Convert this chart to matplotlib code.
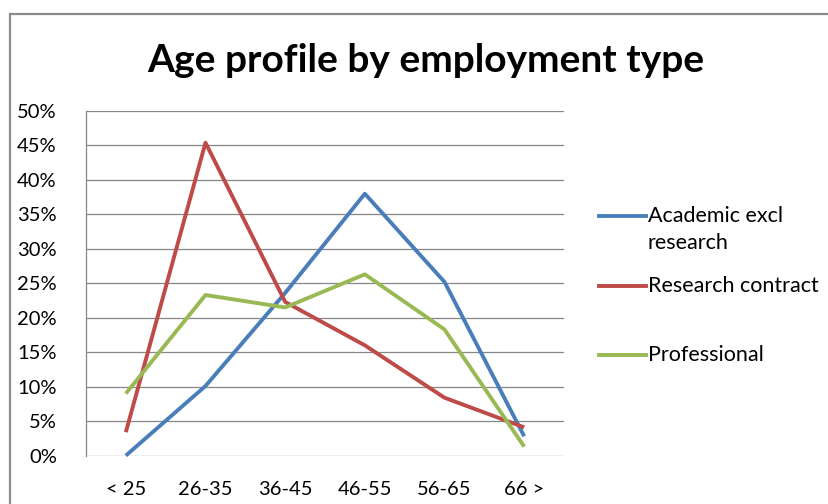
import matplotlib.pyplot as plt
from matplotlib.lines import Line2D
from matplotlib.patches import Rectangle
from matplotlib.ticker import FuncFormatter

# age bands and share of staff in each band
AGE_BANDS = ['< 25', '26-35', '36-45', '46-55', '56-65', '66 >']
academic = [0.0, 10.1, 23.6, 38.0, 25.2, 2.8]
research = [3.4, 45.4, 22.3, 16.0, 8.4, 4.1]
professional = [9.0, 23.3, 21.5, 26.3, 18.3, 1.3]

SERIES = [
    ('Academic excl\nresearch', academic, '#4A7EBB'),
    ('Research contract', research, '#BE4B48'),
    ('Professional', professional, '#98B954'),
]

W, H = 829, 504
plt.rcParams['font.family'] = ['Lato', 'DejaVu Sans']

fig = plt.figure(figsize=(W / 100, H / 100), dpi=100)

# chart area border (only the top-left corner is visible in the crop)
top = 1 - 14 / H
fig.patches.append(Rectangle((10 / W, -0.2), 2, top + 0.2, transform=fig.transFigure,
                             fill=False, edgecolor='#8c8c8c', lw=1.6))

ax = fig.add_axes([86 / W, (H - 455.6) / H, 478 / W, (455.6 - 111) / H])

x = range(len(AGE_BANDS))
for label, values, color in SERIES:
    ax.plot(x, values, color=color, lw=2.8, solid_capstyle='butt', clip_on=False)

ax.set_xlim(-0.5, len(AGE_BANDS) - 0.5)
ax.set_ylim(0, 50)
ax.set_yticks(range(0, 51, 5))
ax.yaxis.set_major_formatter(FuncFormatter(lambda v, _: f"{v:.0f}%"))
ax.set_xticks(list(x))
ax.set_xticklabels(AGE_BANDS)
ax.grid(axis='y', color='#878787', lw=0.9)
ax.set_axisbelow(True)
for side in ['top', 'right', 'bottom']:
    ax.spines[side].set_visible(False)
ax.spines['left'].set_color('#878787')
ax.spines['left'].set_linewidth(0.9)
ax.tick_params(length=0, labelsize=14.5, colors='black')
ax.tick_params(axis='y', pad=21)
ax.tick_params(axis='x', pad=18)

fig.text(425.5 / W, 1 - 60 / H, 'Age profile by employment type', ha='center', va='center',
         fontsize=28, fontweight='bold')

# legend drawn by hand so the handle sits on the first text line, as in Excel
legend_rows = [216, 286, 355]
for (label, _, color), row in zip(SERIES, legend_rows):
    y = 1 - row / H
    fig.lines.append(Line2D([599 / W, 646 / W], [y, y], transform=fig.transFigure,
                            color=color, lw=2.8))
    fig.text(648 / W, y, label.split('\n')[0], ha='left', va='center', fontsize=15.5)
    if '\n' in label:
        fig.text(648 / W, 1 - (row + 27) / H, label.split('\n')[1], ha='left',
                 va='center', fontsize=15.5)

fig.savefig('out.png', dpi=100)
